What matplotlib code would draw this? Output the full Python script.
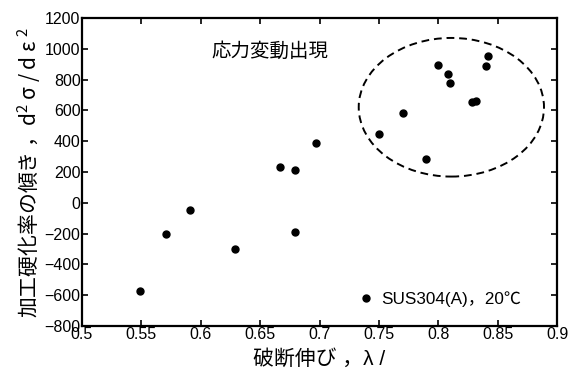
import matplotlib as mpl
import matplotlib.pyplot as plt
from matplotlib.patches import Ellipse

# data
elong = [0.549, 0.571, 0.591, 0.629, 0.667, 0.679, 0.679, 0.697,
         0.750, 0.770, 0.790, 0.800, 0.808, 0.810, 0.828, 0.832, 0.840, 0.842]
slope = [-571, -200, -45, -302, 235, 215, -190, 390,
         445, 580, 285, 895, 835, 780, 655, 658, 890, 950]
series_label = 'SUS304(A)，20℃'
note = '応力変動出現'
xticks = [0.5, 0.55, 0.6, 0.65, 0.7, 0.75, 0.8, 0.85, 0.9]
yticks = [-800, -600, -400, -200, 0, 200, 400, 600, 800, 1000, 1200]

mpl.rcParams['font.family'] = ['Liberation Sans', 'Noto Sans CJK JP']
mpl.rcParams['mathtext.fontset'] = 'custom'
mpl.rcParams['mathtext.rm'] = 'Noto Sans CJK JP'
mpl.rcParams['mathtext.it'] = 'Noto Sans CJK JP'
mpl.rcParams['axes.linewidth'] = 1.6

fig = plt.figure(figsize=(5.71, 3.73), dpi=100)
ax = fig.add_axes([0.1436, 0.126, 0.832, 0.826])

ax.plot(elong, slope, 'o', color='black', markersize=5, label=series_label)

ax.add_patch(Ellipse((0.811, 620), 0.156, 900, fill=False, edgecolor='black',
                     linestyle=(0, (4, 2.5)), linewidth=1.4))
ax.text(0.658, 980, note, ha='center', va='center', fontsize=14)

ax.set_xlim(0.5, 0.9)
ax.set_ylim(-800, 1200)
ax.set_xticks(xticks)
ax.set_xticklabels([f'{t:g}' for t in xticks])
ax.set_yticks(yticks)
ax.tick_params(direction='in', top=True, right=True, length=4, width=1.2,
               labelsize=11.5, pad=1)

ax.set_xlabel('破断伸び ，λ /', fontsize=15, labelpad=5)
# mathtext only takes the first family, so give this label the CJK font alone
ax.set_ylabel(r'加工硬化率の傾き ，d$^2$ $\sigma$ / d $\varepsilon$ $^2$', fontsize=15,
              labelpad=1, family='Noto Sans CJK JP')

ax.legend(loc='center left', bbox_to_anchor=(0.539, 0.088), frameon=False,
          handletextpad=0.1, handlelength=1.5, fontsize=12.3, numpoints=1)

fig.savefig('out.png', dpi=100)
